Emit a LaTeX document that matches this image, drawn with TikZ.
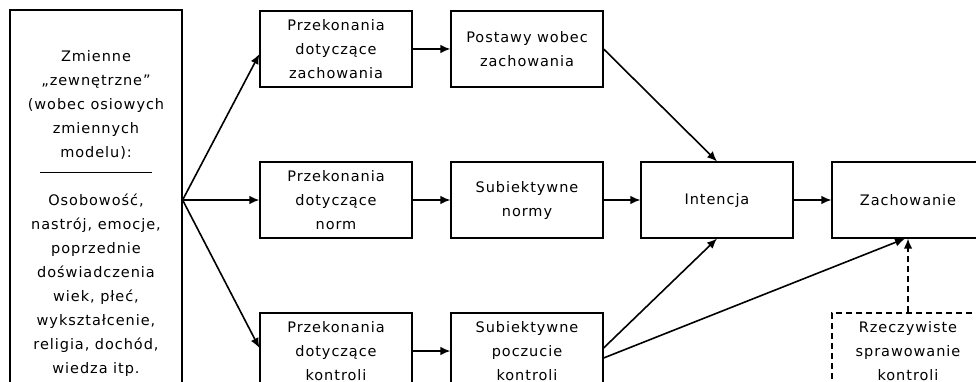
\documentclass[tikz,border=0pt]{standalone}
\usepackage{fontspec}
\setmainfont{DejaVu Sans}[LetterSpace=6.5]
\usetikzlibrary{arrows.meta}

\begin{document}
\begin{tikzpicture}[x=1pt, y=-1pt,
    every node/.style={font=\fontsize{14.5}{24}\selectfont, align=center},
    box/.style={draw, line width=1.2pt, minimum width=152pt, minimum height=76pt, inner sep=2pt},
    arr/.style={-{Latex[length=10pt,width=8.5pt]}, line width=1.6pt}]
  \clip (0,0) rectangle (976,382);

  %––––– column 1 –––––
  \node[box, minimum width=172pt, minimum height=406pt] (zew) at (96,213)
    {Zmienne\\ „zewnętrzne”\\ (wobec osiowych\\ zmiennych\\ modelu):\\[-8pt]
     \rule{112pt}{0.9pt}\\[8pt]
     Osobowość,\\ nastrój, emocje,\\ poprzednie\\ doświadczenia\\ wiek, płeć,\\
     wykształcenie,\\ religia, dochód,\\ wiedza itp.};
  \coordinate (wyj) at (zew.east |- 0,200);

  %––––– column 2 –––––
  \node[box] (pz) at (336,49) {Przekonania\\ dotyczące\\ zachowania};
  \draw[arr] (wyj) -- ([yshift=-5pt]pz.west);

  \node[box] (pn) at (336,200) {Przekonania\\ dotyczące\\ norm};
  \draw[arr] (wyj) -- (pn.west);

  \node[box] (pk) at (336,351) {Przekonania\\ dotyczące\\ kontroli};
  \draw[arr] (wyj) -- ([yshift=3pt]pk.west);

  %––––– column 3 –––––
  \node[box] (post) at (527,49) {Postawy wobec\\ zachowania};
  \draw[arr] (pz) -- (post);

  \node[box] (norm) at (527,200) {Subiektywne\\ normy};
  \draw[arr] (pn) -- (norm);

  \node[box] (pocz) at (527,351) {Subiektywne\\ poczucie\\ kontroli};
  \draw[arr] (pk) -- (pocz);

  %––––– column 4 –––––
  \node[box] (int) at (717,200) {Intencja};
  \draw[arr] (post.east) -- (int.north);
  \draw[arr] (norm) -- (int);
  \draw[arr] ([yshift=3pt]pocz.east) -- (int.south);

  %––––– column 5 –––––
  \node[box] (zach) at (908,200) {Zachowanie};
  \draw[arr] (int) -- (zach);
  \draw[arr] ([yshift=-7pt]pocz.east) -- ([xshift=-3pt]zach.south);

  \node[box, dashed, dash pattern=on 6pt off 4pt] (rzecz) at (908,351)
    {Rzeczywiste\\ sprawowanie\\ kontroli};
  \draw[arr, dash pattern=on 6pt off 4pt] (rzecz) -- (zach);
\end{tikzpicture}
\end{document}
